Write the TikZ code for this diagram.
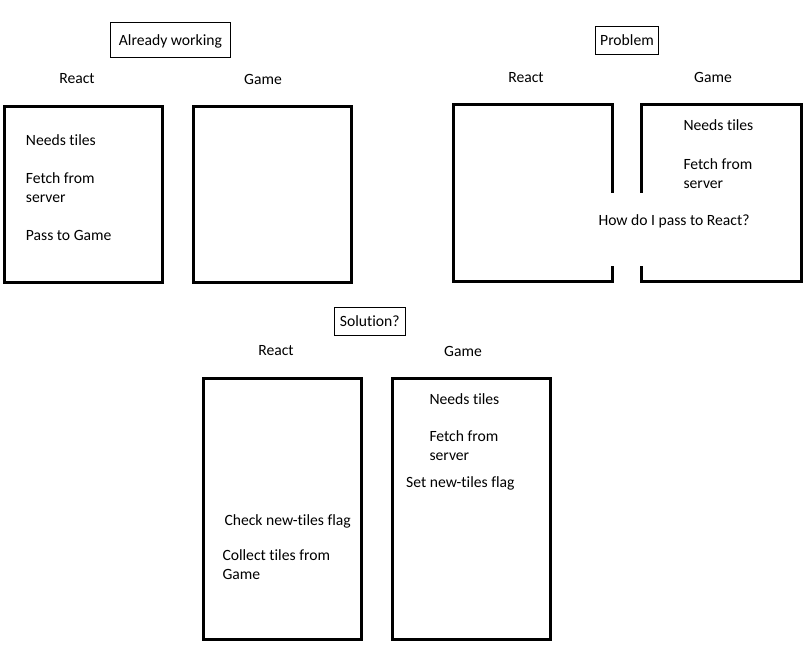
\documentclass[tikz,border=0pt]{standalone}
\usepackage{fontspec}
\setmainfont[Ligatures=NoCommon]{Carlito}
\usetikzlibrary{positioning}

\begin{document}
\begin{tikzpicture}[x=1bp,y=-1bp,
  panelbox/.style={draw, line width=3bp, inner sep=0, minimum width=159, minimum height=176},
  panelline/.style={line width=3bp, line join=miter},
  titlebox/.style={draw, line width=0.8bp, inner sep=0, text depth=0pt, font=\myfonttext},
  partname/.style={inner sep=0, anchor=base, font=\myfonttext},
  steptext/.style={inner sep=0, anchor=base west, align=left, font=\myfonttext}]
\newcommand{\myfonttext}{\fontsize{15.7}{19}\selectfont}
%Page size
\useasboundingbox (0,0) rectangle (811,654);
%Already working
\node [titlebox, minimum width=120, minimum height=34.5] (titleWorking) at (170.4,40) {Already working};
\node [partname] (nameReact1) at (77,83.5) {React};
\node [partname] (nameGame1) at (263,84.5) {Game};
\node [panelbox] (react1) at (83.5,194.5) {};
\node [panelbox] (game1) at (272.5,194.5) {};
\node [steptext] (needs1) at (25.7,145.5) {Needs tiles};
\node [steptext] (fetch1) at (25.7,202.5) {Fetch from\\server};
\node [steptext] (pass1) at (25.7,240.5) {Pass to Game};
%Problem
\node [titlebox, minimum width=63.5, minimum height=28.5] (titleProblem) at (627,40.3) {Problem};
\node [partname] (nameReact2) at (526,82.5) {React};
\node [partname] (nameGame2) at (713,83) {Game};
%React box, open on the right
\coordinate (react2gapTop) at (612.2,192.7);
\coordinate (react2gapBottom) at (612.2,266);
\draw [panelline] (react2gapTop) -- (612.2,104.2) -- (453.2,104.2) -- (453.2,281.2) -- (612.2,281.2) -- (react2gapBottom);
%Game box, open on the left
\coordinate (game2gapTop) at (641.8,192.7);
\coordinate (game2gapBottom) at (641.8,266);
\draw [panelline] (game2gapTop) -- (641.8,104.2) -- (801.2,104.2) -- (801.2,281.2) -- (641.8,281.2) -- (game2gapBottom);
\node [steptext] (needs2) at (683.3,131) {Needs tiles};
\node [steptext] (fetch2) at (683.3,188) {Fetch from\\server};
\node [steptext] (ask2) at (598.3,225) {How do I pass to React?};
%Solution?
\node [titlebox, minimum width=71.5, minimum height=27.5] (titleSolution) at (369.8,321.3) {Solution?};
\node [partname] (nameReact3) at (276,355.5) {React};
\node [partname] (nameGame3) at (463,356.5) {Game};
\node [panelbox, minimum height=262] (react3) at (282.7,509.2) {};
\node [panelbox, minimum height=262] (game3) at (471.5,509.2) {};
\node [steptext] (needs3) at (429.3,404) {Needs tiles};
\node [steptext] (fetch3) at (429.3,460.5) {Fetch from\\server};
\node [steptext] (flag3) at (406,487.5) {Set new-tiles flag};
\node [steptext] (check3) at (224.3,525) {Check new-tiles flag};
\node [steptext] (collect3) at (222.3,579.5) {Collect tiles from\\Game};
\end{tikzpicture}
\end{document}
